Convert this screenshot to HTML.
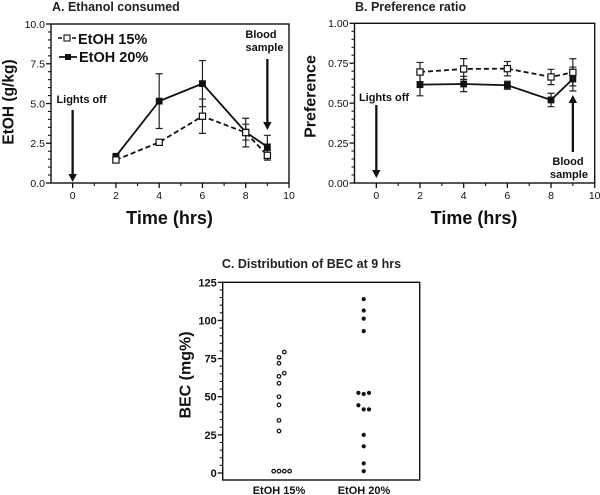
<!DOCTYPE html>
<html>
<head>
<meta charset="utf-8">
<title>Ethanol consumption charts</title>
<style>
html,body{margin:0;padding:0;background:#fff;}
svg{display:block;font-family:"Liberation Sans",sans-serif;}
</style>
</head>
<body>
<svg id="chart" xmlns="http://www.w3.org/2000/svg" width="600" height="495" viewBox="0 0 600 495">
  <rect width="600" height="495" fill="#fff"/>
  <g id="panel-a"></g>
  <g id="panel-b"></g>
  <g id="panel-c"></g>

  <text x="52" y="11" font-size="12.5" font-weight="bold" fill="#222">A. Ethanol consumed</text>
  <text transform="translate(13.5,102) rotate(-90)" text-anchor="middle" font-size="15.5" font-weight="bold" fill="#111">EtOH (g/kg)</text>
  <text x="169.5" y="224" text-anchor="middle" font-size="18" font-weight="bold" fill="#111">Time (hrs)</text>
  <text x="78" y="44" font-size="14.5" font-weight="bold" fill="#111">EtOH 15%</text>
  <text x="79" y="62" font-size="14.5" font-weight="bold" fill="#111">EtOH 20%</text>
  <text x="81.5" y="103" text-anchor="middle" font-size="11" font-weight="bold" fill="#111">Lights off</text>
  <text x="261" y="38" text-anchor="middle" font-size="11" font-weight="bold" fill="#111">Blood</text>
  <text x="264.5" y="51" text-anchor="middle" font-size="11" font-weight="bold" fill="#111">sample</text>

  <text x="355" y="11" font-size="12.5" font-weight="bold" fill="#222">B. Preference ratio</text>
  <text transform="translate(315.5,96.5) rotate(-90)" text-anchor="middle" font-size="16" font-weight="bold" fill="#111">Preference</text>
  <text x="474" y="224" text-anchor="middle" font-size="18" font-weight="bold" fill="#111">Time (hrs)</text>
  <text x="384" y="101" text-anchor="middle" font-size="11" font-weight="bold" fill="#111">Lights off</text>
  <text x="568" y="165" text-anchor="middle" font-size="11" font-weight="bold" fill="#111">Blood</text>
  <text x="569" y="178" text-anchor="middle" font-size="11" font-weight="bold" fill="#111">sample</text>

  <text x="311.5" y="268" text-anchor="middle" font-size="12.5" font-weight="bold" fill="#222">C. Distribution of BEC at 9 hrs</text>
  <text transform="translate(190.5,375) rotate(-90)" text-anchor="middle" font-size="16" font-weight="bold" fill="#111">BEC (mg%)</text>
  <text x="279" y="494" text-anchor="middle" font-size="11" font-weight="bold" fill="#111">EtOH 15%</text>
  <text x="364" y="494" text-anchor="middle" font-size="11" font-weight="bold" fill="#111">EtOH 20%</text>
</svg>
<script>
// Panel A: ethanol consumed
const hours = [2, 4, 6, 8, 9];
const ethanol15 = [1.45, 2.56, 4.2, 3.17, 1.74];
const ethanol15Err = [0.15, 0.15, 1.08, 0.9, 0.3];
const ethanol20 = [1.68, 5.15, 6.25, 3.2, 2.27];
const ethanol20Err = [0.12, 1.72, 1.45, 0.5, 0.73];
const ethanolYTicks = ['0.0', '2.5', '5.0', '7.5', '10.0'];

// Panel B: preference ratio
const preference15 = [0.695, 0.714, 0.716, 0.664, 0.693];
const preference15Err = [0.06, 0.065, 0.045, 0.048, 0.085];
const preference20 = [0.616, 0.62, 0.612, 0.52, 0.651];
const preference20Err = [0.07, 0.048, 0.025, 0.042, 0.075];
const preferenceYTicks = ['0.00', '0.25', '0.50', '0.75', '1.00'];

const timeXTicks = ['0', '2', '4', '6', '8', '10'];

// Panel C: BEC distribution (slot = side-by-side jitter column)
const bec15 = [79.3, 75.8, 71.9, 65.4, 63.4, 58.8, 50, 44.6, 34.5, 27.5, 1.2, 1.2, 1.2, 1.2];
const bec15Slots = [1, 0, 0, 1, 0, 0, 0, 0, 0, 0, -1, 0, 1, 2];
const bec20 = [114, 106.5, 101.2, 93, 52.5, 51.8, 52.5, 44.4, 41.7, 41.7, 25, 17.5, 6.3, 1.2];
const bec20Slots = [0, 0, 0, 0, -1, 0, 1, -1, 0, 1, 0, 0, 0, 0];
const becYTicks = ['0', '25', '50', '75', '100', '125'];

const NS = 'http://www.w3.org/2000/svg';
const INK = '#111';

function mk(parent, tag, attrs) {
  const el = document.createElementNS(NS, tag);
  for (const k in attrs) el.setAttribute(k, attrs[k]);
  parent.appendChild(el);
  return el;
}
function linear(d0, d1, r0, r1) {
  return v => r0 + (v - d0) * (r1 - r0) / (d1 - d0);
}
function yAxis(g, sy, x, labels, minorPerMajor, fontSize, bold, prefix) {
  const vals = labels.map(Number);
  const step = vals[1] - vals[0];
  vals.forEach((v, i) => {
    const t = mk(g, 'line', {x1: x - 5, x2: x, y1: sy(v), y2: sy(v), stroke: INK, 'stroke-width': 1.3});
    
    
    const lab = mk(g, 'text', {x: x - 6, y: sy(v) + fontSize * 0.36, 'text-anchor': 'end', 'font-size': fontSize, 'font-weight': bold ? 'bold' : 'normal', fill: '#111'});
    lab.textContent = labels[i];
    
    
    if (i < vals.length - 1) {
      for (let m = 1; m < minorPerMajor; m++) {
        const mv = v + step * m / minorPerMajor;
        const mt = mk(g, 'line', {x1: x - 3, x2: x, y1: sy(mv), y2: sy(mv), stroke: INK, 'stroke-width': 1.1});
        
        
      }
    }
  });
}
function xAxis(g, sx, y, labels, prefix) {
  labels.map(Number).forEach((v, i) => {
    const t = mk(g, 'line', {x1: sx(v), x2: sx(v), y1: y, y2: y + 5, stroke: INK, 'stroke-width': 1.3});
    
    
    const lab = mk(g, 'text', {x: sx(v), y: y + 16, 'text-anchor': 'middle', 'font-size': 10.5, fill: '#111'});
    lab.textContent = labels[i];
    
    
    if (i < labels.length - 1) {
      const mt = mk(g, 'line', {x1: sx(v + 1), x2: sx(v + 1), y1: y, y2: y + 3, stroke: INK, 'stroke-width': 1.1});
      
      
    }
  });
}
function frame(g, x0, y0, x1, y1, prefix) {
  const r = mk(g, 'rect', {x: x0, y: y0, width: x1 - x0, height: y1 - y0, fill: 'none', stroke: INK, 'stroke-width': 1.4});
  
  
}
function series(g, sx, sy, xs, ys, errs, filled, name) {
  xs.forEach((x, i) => {
    const top = sy(ys[i] + errs[i]), bot = sy(ys[i] - errs[i]), cx = sx(x);
    const e = mk(g, 'path', {d: `M${cx} ${top}V${bot}M${cx - 3.5} ${top}H${cx + 3.5}M${cx - 3.5} ${bot}H${cx + 3.5}`, fill: 'none', stroke: '#222', 'stroke-width': 1.2});
    
    
  });
  const pts = xs.map((x, i) => sx(x) + ',' + sy(ys[i])).join(' ');
  const attrs = {points: pts, fill: 'none', stroke: INK, 'stroke-width': 1.8};
  if (!filled) attrs['stroke-dasharray'] = '5 3';
  const l = mk(g, 'polyline', attrs);
  
  
  xs.forEach((x, i) => {
    const s = mk(g, 'rect', {x: sx(x) - 3.1, y: sy(ys[i]) - 3.1, width: 6.2, height: 6.2, fill: filled ? INK : '#fff', stroke: INK, 'stroke-width': filled ? 0.6 : 1.2});
    
    
  });
}
function arrow(g, x, y1, y2, name) {
  const dir = y2 > y1 ? 1 : -1;
  const l = mk(g, 'line', {x1: x, x2: x, y1: y1, y2: y2 - dir * 6, stroke: INK, 'stroke-width': 2.3});
  
  
  const h = mk(g, 'polygon', {points: `${x - 4.2},${y2 - dir * 8} ${x + 4.2},${y2 - dir * 8} ${x},${y2}`, fill: INK});
  
  
}

// ---- Panel A ----
(function () {
  const g = document.getElementById('panel-a');
  const sx = linear(-1, 10, 51, 289), sy = linear(0, 10, 183, 24);
  frame(g, 51, 24, 289, 183, 'panel-a');
  yAxis(g, sy, 51, ethanolYTicks, 5, 10.5, false, 'panel-a');
  xAxis(g, sx, 183, timeXTicks, 'panel-a');
  series(g, sx, sy, hours, ethanol20, ethanol20Err, true, 'ethanol-20');
  series(g, sx, sy, hours, ethanol15, ethanol15Err, false, 'ethanol-15');
  arrow(g, sx(0), 110, 182, 'panel-a-lights-off-arrow');
  arrow(g, sx(9), 59, 130, 'panel-a-blood-arrow');

  const l1 = mk(g, 'line', {x1: 58, x2: 76, y1: 38, y2: 38, stroke: INK, 'stroke-width': 1.5, 'stroke-dasharray': '4 3'});
  
  
  const k1 = mk(g, 'rect', {x: 64, y: 35, width: 6, height: 6, fill: '#fff', stroke: INK, 'stroke-width': 1.1});
  
  
  const l2 = mk(g, 'line', {x1: 59, x2: 77, y1: 57, y2: 57, stroke: INK, 'stroke-width': 1.8});
  
  
  const k2 = mk(g, 'rect', {x: 65, y: 54, width: 6, height: 6, fill: INK});
  
  
})();

// ---- Panel B ----
(function () {
  const g = document.getElementById('panel-b');
  const sx = linear(-1, 10, 354.5, 594.7), sy = linear(0, 1, 183, 23.3);
  frame(g, 354.5, 23.3, 594.7, 183, 'panel-b');
  yAxis(g, sy, 354.5, preferenceYTicks, 5, 10.5, false, 'panel-b');
  xAxis(g, sx, 183, timeXTicks, 'panel-b');
  series(g, sx, sy, hours, preference20, preference20Err, true, 'preference-20');
  series(g, sx, sy, hours, preference15, preference15Err, false, 'preference-15');
  arrow(g, sx(0), 105, 178, 'panel-b-lights-off-arrow');
  arrow(g, sx(9), 152, 95, 'panel-b-blood-arrow');
})();

// ---- Panel C ----
(function () {
  const g = document.getElementById('panel-c');
  const sy = linear(0, 125, 473, 282.3);
  const cat15 = 279, cat20 = 363.7, slotW = 5.3;
  frame(g, 222.7, 282.3, 419.7, 480, 'panel-c');
  yAxis(g, sy, 222.7, becYTicks, 5, 11, true, 'panel-c');
  bec15.forEach((v, i) => {
    const c = mk(g, 'circle', {cx: cat15 + bec15Slots[i] * slotW, cy: sy(v), r: 1.8, fill: '#fff', stroke: INK, 'stroke-width': 1.2});
    
    
  });
  bec20.forEach((v, i) => {
    const c = mk(g, 'circle', {cx: cat20 + bec20Slots[i] * slotW, cy: sy(v), r: 2.1, fill: INK});
    
    
  });
})();
</script>
</body>
</html>
